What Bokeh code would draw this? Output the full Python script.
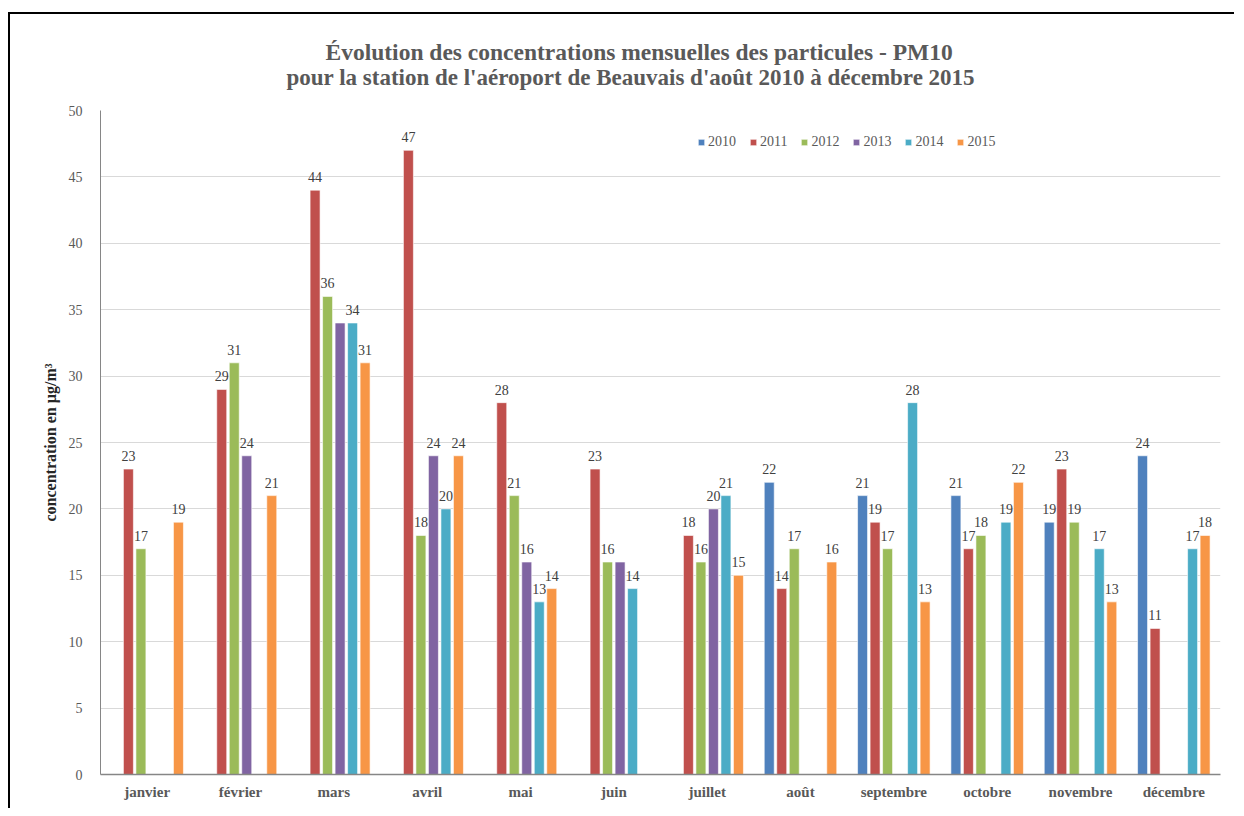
from bokeh.plotting import figure
from bokeh.models import ColumnDataSource, FactorRange, Range1d, Legend, LegendItem, Title, SingleIntervalTicker
from bokeh.transform import dodge
from bokeh.core.properties import value
from bokeh.embed import file_html
from bokeh.resources import INLINE

months = ["janvier", "février", "mars", "avril", "mai", "juin", "juillet",
          "août", "septembre", "octobre", "novembre", "décembre"]
years = ["2010", "2011", "2012", "2013", "2014", "2015"]

s2010 = [None, None, None, None, None, None, None, 22, 21, 21, 19, 24]
s2011 = [23, 29, 44, 47, 28, 23, 18, 14, 19, 17, 23, 11]
s2012 = [17, 31, 36, 18, 21, 16, 16, 17, 17, 18, 19, None]
s2013 = [None, 24, 34, 24, 16, 16, 20, None, None, None, None, None]
s2014 = [None, None, 34, 20, 13, 14, 21, None, 28, 19, 17, 17]
s2015 = [19, 21, 31, 24, 14, None, 15, 16, 13, 22, 13, 18]
series = [s2010, s2011, s2012, s2013, s2014, s2015]
colors = ["#4F81BD", "#C0504D", "#9BBB59", "#8064A2", "#4BACC6", "#F79646"]

# data labels not shown in the original (overlapping ones)
hidden_labels = [("mars", "2013"), ("juin", "2013")]

title1 = "Évolution des concentrations mensuelles des particules - PM10"
title2 = "pour la station de l'aéroport de Beauvais d'août 2010 à décembre 2015"

FONT = "Liberation Serif"
GRAY = "#595959"

p = figure(x_range=FactorRange(*months), y_range=Range1d(0, 50),
           width=1226, height=796, output_backend="svg", toolbar_location=None,
           min_border_left=90, min_border_right=16, min_border_top=96, min_border_bottom=36)
p.styles = {"border-left": "2px solid black", "border-top": "2px solid black",
            "margin-top": "12px", "margin-left": "8px"}

p.outline_line_color = None
p.xgrid.grid_line_color = None
p.ygrid.grid_line_color = "#D9D9D9"
p.ygrid.grid_line_width = 1

p.yaxis.ticker = SingleIntervalTicker(interval=5)
p.yaxis.major_tick_line_color = None
p.yaxis.minor_tick_line_color = None
p.yaxis.axis_line_color = "#868686"
p.yaxis.major_label_text_font = FONT
p.yaxis.major_label_text_font_size = "14px"
p.yaxis.major_label_text_color = GRAY
p.yaxis.major_label_standoff = 12
p.yaxis.axis_label = "concentration en µg/m³"
p.yaxis.axis_label_text_font = FONT
p.yaxis.axis_label_text_font_size = "16px"
p.yaxis.axis_label_text_font_style = "bold"
p.yaxis.axis_label_text_color = "#262626"
p.yaxis.axis_label_standoff = 7

p.xaxis.major_tick_line_color = None
p.xaxis.minor_tick_line_color = None
p.xaxis.axis_line_color = "#868686"
p.xaxis.axis_line_width = 1.5
p.xaxis.major_label_text_font = FONT
p.xaxis.major_label_text_font_size = "15px"
p.xaxis.major_label_text_font_style = "bold"
p.xaxis.major_label_text_color = GRAY
p.xaxis.major_label_standoff = 3

slot = 0.134
bw = 0.107
items = []
for i, (yr, vals, col) in enumerate(zip(years, series, colors)):
    xs = [m for m, v in zip(months, vals) if v is not None]
    ys = [v for v in vals if v is not None]
    src = ColumnDataSource(dict(x=xs, top=ys))
    off = (i - 2.5) * slot
    r = p.vbar(x=dodge("x", off, range=p.x_range), top="top", width=bw, source=src,
               fill_color=col, line_color="white", line_width=0.6)
    lx = [m for m, v in zip(xs, ys) if (m, yr) not in hidden_labels]
    ly = [v for m, v in zip(xs, ys) if (m, yr) not in hidden_labels]
    lsrc = ColumnDataSource(dict(x=lx, top=ly, lab=[str(v) for v in ly]))
    p.text(x=dodge("x", off, range=p.x_range), y="top", text="lab", source=lsrc,
           text_font=value(FONT), text_font_size="14px", text_color="#404040",
           text_align="center", text_baseline="bottom", y_offset=-8)
    items.append(LegendItem(label=yr, renderers=[r]))

legend = Legend(items=items, orientation="horizontal", location=(597, 624),
                label_text_font=FONT, label_text_font_size="14px", label_text_color=GRAY,
                glyph_width=8, glyph_height=8, label_standoff=3, spacing=13,
                border_line_color=None, background_fill_alpha=0, padding=4, margin=0)
p.add_layout(legend, "center")

# Title lines (first added sits closest to the plot)
p.add_layout(Title(text=title2, align="left", offset=186, standoff=41,
                   text_font=FONT, text_font_size="23px", text_font_style="bold",
                   text_color=GRAY), "above")
p.add_layout(Title(text=title1, align="left", offset=225, standoff=-44,
                   text_font=FONT, text_font_size="23.5px", text_font_style="bold",
                   text_color=GRAY), "above")

open("out.html", "w").write(file_html(p, INLINE))
